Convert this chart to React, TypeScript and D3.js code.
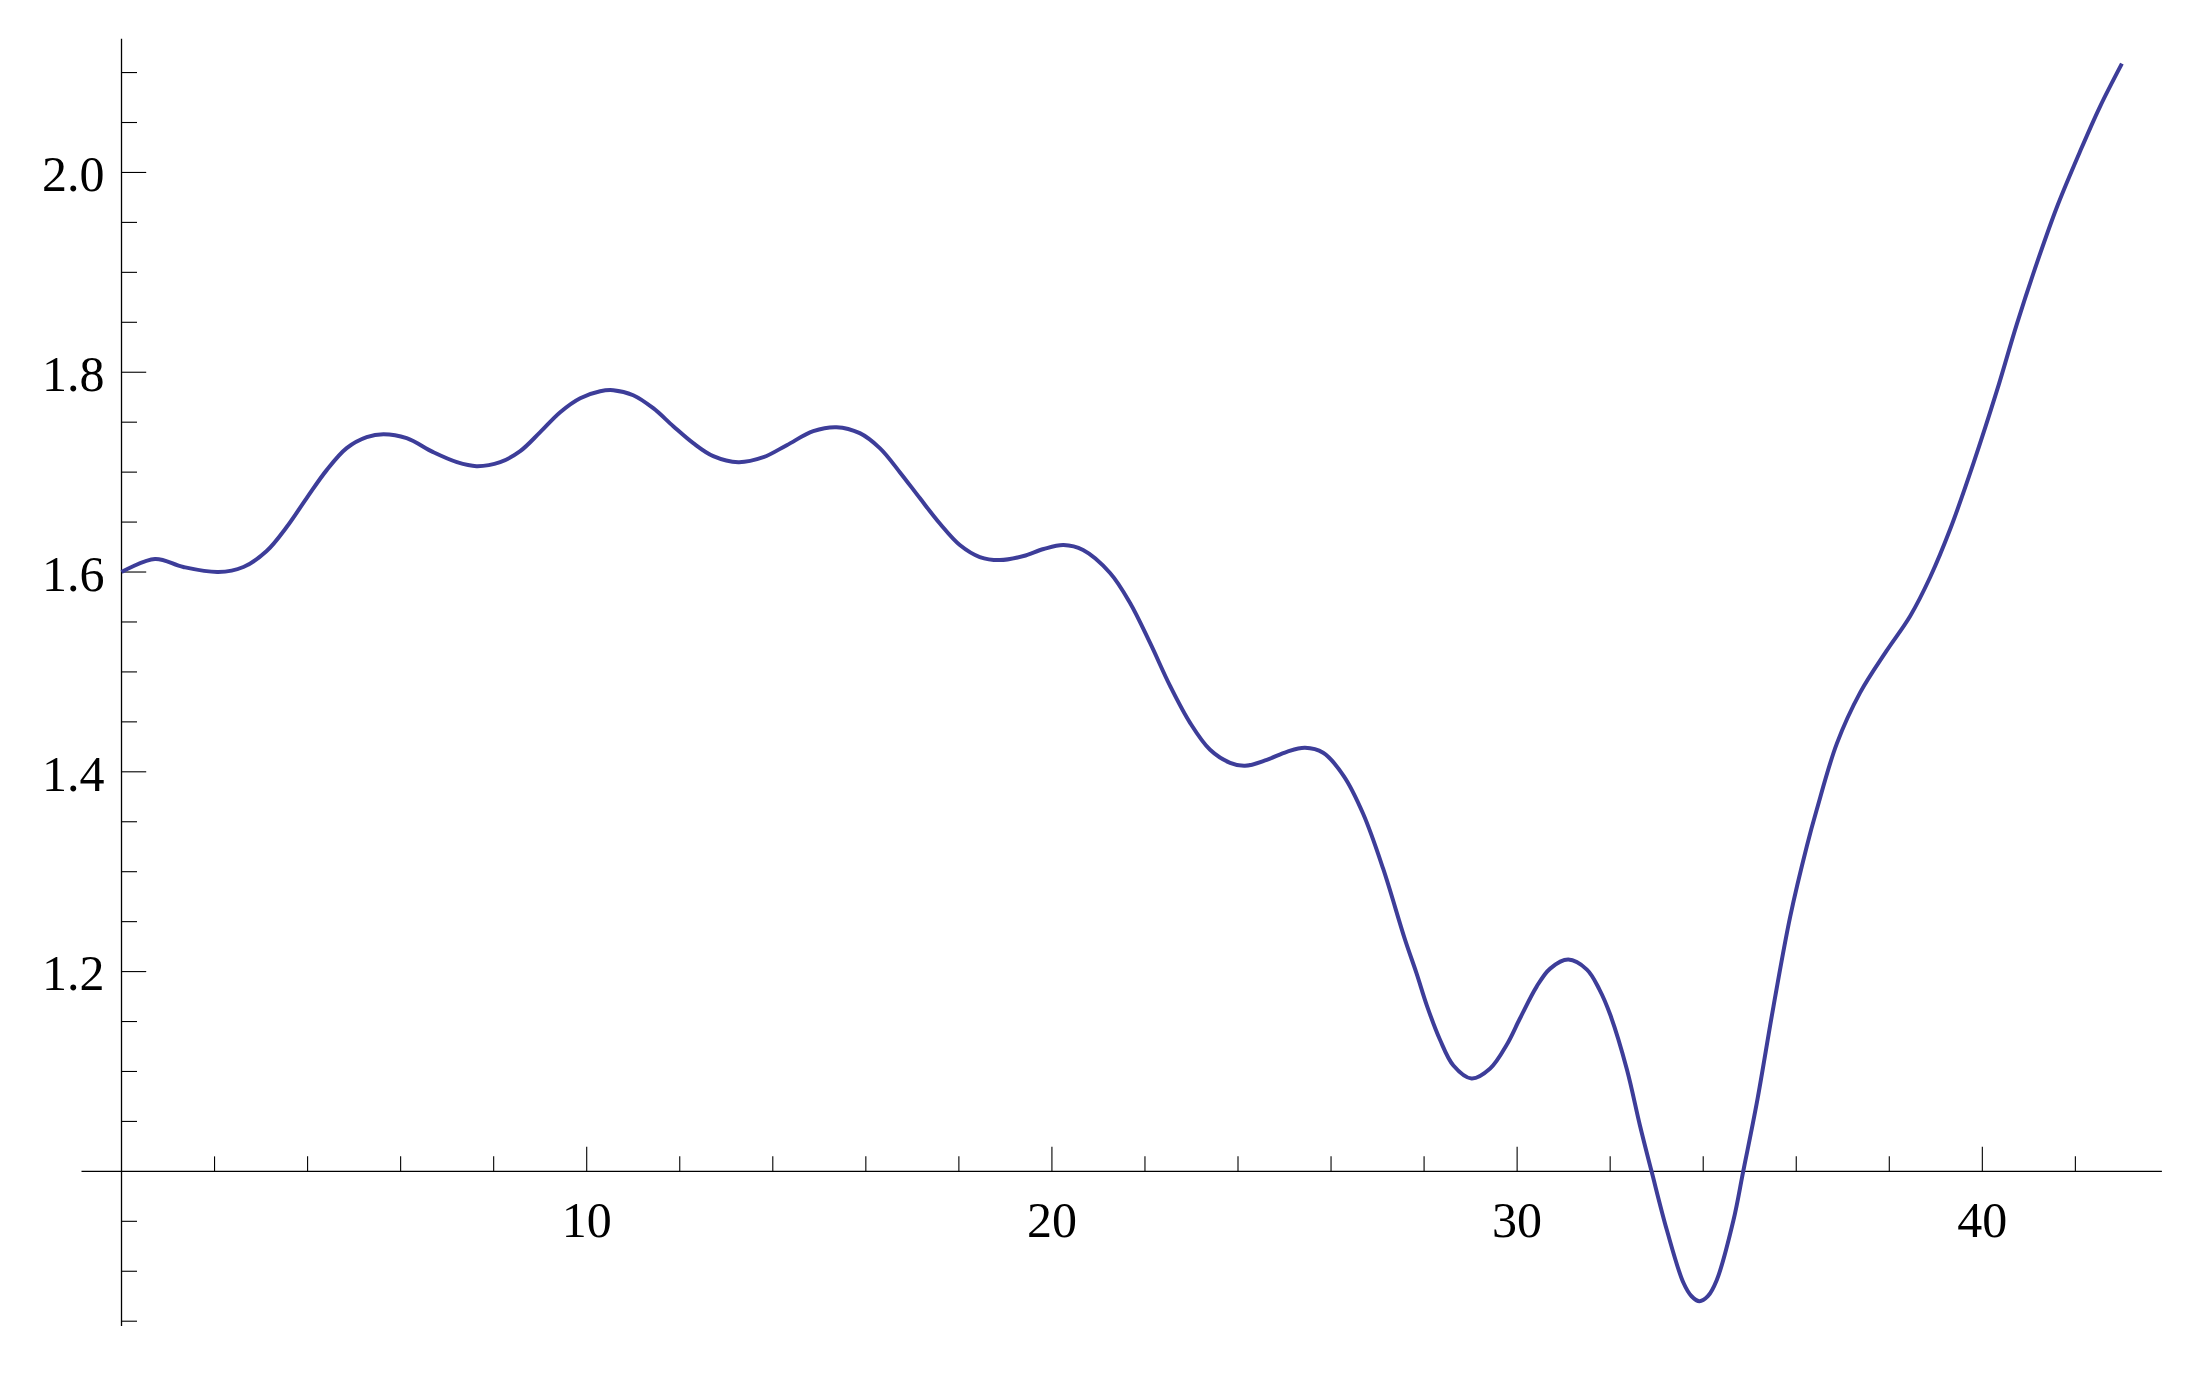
import React from 'react';
import * as d3 from 'd3';

const xValues = [
  0, 0.72, 1.33, 2.08, 2.62, 3.12, 3.55, 3.98, 4.41, 4.84, 5.27, 5.63, 6.13, 6.7, 7.21, 7.63,
  8.14, 8.57, 9.0, 9.43, 9.86, 10.29, 10.57, 11.0, 11.43, 11.86, 12.29, 12.72, 13.26, 13.8,
  14.3, 14.87, 15.37, 15.87, 16.3, 16.73, 17.16, 17.6, 18.02, 18.45, 18.88, 19.39, 19.82,
  20.25, 20.67, 21.25, 21.68, 22.11, 22.54, 22.97, 23.4, 23.83, 24.15, 24.62, 25.05, 25.44,
  25.83, 26.27, 26.69, 27.12, 27.59, 27.84, 28.06, 28.34, 28.63, 29.02, 29.42, 29.78, 30.06,
  30.42, 30.71, 31.1, 31.5, 31.77, 32.0, 32.36, 32.64, 32.89, 33.22, 33.57, 33.75, 33.92,
  34.1, 34.29, 34.65, 34.86, 35.15, 35.51, 35.87, 36.23, 36.44, 36.87, 37.37, 37.94, 38.45,
  38.88, 39.31, 39.81, 40.31, 40.74, 41.17, 41.6, 42.1, 42.53, 43.0,
];
const yValues = [
  1.6, 1.613, 1.605, 1.6, 1.605, 1.621, 1.645, 1.674, 1.702, 1.724, 1.735, 1.738, 1.734, 1.72,
  1.71, 1.706, 1.71, 1.721, 1.74, 1.76, 1.774, 1.781, 1.782, 1.777, 1.764, 1.746, 1.729, 1.716,
  1.71, 1.715, 1.727, 1.741, 1.745, 1.739, 1.724, 1.7, 1.674, 1.648, 1.627, 1.615, 1.612,
  1.616, 1.623, 1.627, 1.622, 1.599, 1.569, 1.529, 1.486, 1.449, 1.422, 1.409, 1.406, 1.412,
  1.42, 1.424, 1.419, 1.396, 1.358, 1.303, 1.232, 1.198, 1.166, 1.132, 1.106, 1.093, 1.103,
  1.127, 1.153, 1.185, 1.203, 1.212, 1.202, 1.182, 1.157, 1.102, 1.046, 1.0, 0.941, 0.889,
  0.875, 0.87, 0.875, 0.891, 0.951, 1.0, 1.068, 1.165, 1.255, 1.326, 1.362, 1.428, 1.479,
  1.521, 1.556, 1.595, 1.643, 1.709, 1.781, 1.848, 1.909, 1.965, 2.021, 2.066, 2.109,
];

const xMajorTicks = [10, 20, 30, 40];
const xMinorTicks = [2, 4, 6, 8, 12, 14, 16, 18, 22, 24, 26, 28, 32, 34, 36, 38, 42];
const yMajorTicks = [1.2, 1.4, 1.6, 1.8, 2.0];
const yMajorLabels = ['1.2', '1.4', '1.6', '1.8', '2.0'];
const yMinorTicks = [
  0.85, 0.9, 0.95, 1.05, 1.1, 1.15, 1.25, 1.3, 1.35, 1.45, 1.5, 1.55, 1.65, 1.7, 1.75, 1.85,
  1.9, 1.95, 2.05, 2.1,
];

const W = 2199;
const H = 1373;
const FONT = '"Liberation Serif", "Times New Roman", serif';

export default function App() {
  const x = d3.scaleLinear().domain([-0.86, 43.86]).range([81.5, 2161.9]);
  const y = d3.scaleLinear().domain([0.8452, 2.1338]).range([1326, 38.8]);

  const pts = xValues.map((v, i) => [v, yValues[i]] as [number, number]);
  const line = d3
    .line<[number, number]>()
    .x(d => x(d[0]))
    .y(d => y(d[1]))
    .curve(d3.curveCatmullRom.alpha(0.5));

  const x0 = x(0);
  const y1 = y(1);
  const axisStroke = '#000';

  return (
    <svg
      width={W}
      height={H}
      style={{ position: 'absolute', left: 0, top: 0, display: 'block', background: '#fff' }}
    >
      {/* axes */}
      <line x1={x.range()[0]} x2={x.range()[1]} y1={y1} y2={y1} stroke={axisStroke} strokeWidth={1.3} />
      <line x1={x0} x2={x0} y1={y.range()[0]} y2={y.range()[1]} stroke={axisStroke} strokeWidth={1.3} />

      {/* x ticks */}
      {xMinorTicks.map(t => (
        <line key={'xm' + t} x1={x(t)} x2={x(t)} y1={y1} y2={y1 - 15} stroke={axisStroke} strokeWidth={1.1} />
      ))}
      {xMajorTicks.map(t => (
        <g key={'xM' + t}>
          <line x1={x(t)} x2={x(t)} y1={y1} y2={y1 - 24.5} stroke={axisStroke} strokeWidth={1.1} />
          <text x={x(t)} y={y1 + 65.3} textAnchor="middle" fontFamily={FONT} fontSize={50} fill="#000">
            {t}
          </text>
        </g>
      ))}

      {/* y ticks */}
      {yMinorTicks.map(t => (
        <line key={'ym' + t} x1={x0} x2={x0 + 15.5} y1={y(t)} y2={y(t)} stroke={axisStroke} strokeWidth={1.1} />
      ))}
      {yMajorTicks.map((t, i) => (
        <g key={'yM' + t}>
          <line x1={x0} x2={x0 + 24.7} y1={y(t)} y2={y(t)} stroke={axisStroke} strokeWidth={1.1} />
          <text x={104.5} y={y(t) + 18.8} textAnchor="end" fontFamily={FONT} fontSize={50} fill="#000">
            {yMajorLabels[i]}
          </text>
        </g>
      ))}

      {/* curve */}
      <path d={line(pts) || ''} fill="none" stroke="#3d3d99" strokeWidth={4} strokeLinejoin="round" />
    </svg>
  );
}
